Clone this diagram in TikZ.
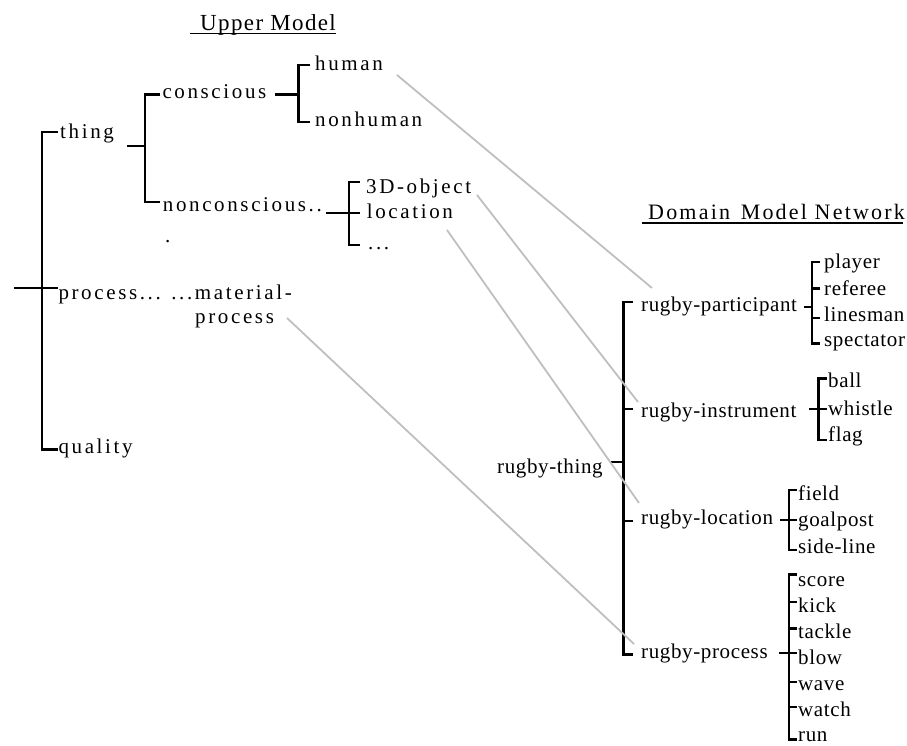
\documentclass[tikz,border=0pt]{standalone}
\usepackage{fontspec}
\setmainfont{Liberation Serif}
\newfontfamily\upf[LetterSpace=12.5]{Liberation Serif}
\newfontfamily\dmf[LetterSpace=3]{Liberation Serif}
\newfontfamily\hdf[LetterSpace=6]{Liberation Serif}
\newfontfamily\dhf[LetterSpace=10]{Liberation Serif}
\begin{document}
\begin{tikzpicture}[x=1pt,y=-1pt,
  uptxt/.style={anchor=base west, inner sep=0pt, font=\upf\fontsize{21}{25}\selectfont},
  dmtxt/.style={anchor=base west, inner sep=0pt, font=\dmf\fontsize{21}{25}\selectfont},
  hdtxt/.style={anchor=base west, inner sep=0pt, font=\hdf\fontsize{23}{27}\selectfont},
  dhtxt/.style={anchor=base west, inner sep=0pt, font=\dhf\fontsize{22}{26}\selectfont},
  br/.style={line width=2.4pt, line join=miter, draw=black},
  ul/.style={line width=1.4pt, draw=black},
  gl/.style={line width=1.8pt, draw=black!25}]
\useasboundingbox (0,0) rectangle (907,745);

% ---------- Upper Model ----------
\node[hdtxt] (uptitle) at (200,30) {Upper Model};
\draw[ul] (190,33.5) -- (uptitle.base east |- 0,33.5);

\node[uptxt] (thing) at (60,138.3) {thing};
\node[uptxt] (process) at (58.3,299) {process... ...material-};
\node[uptxt] (process2) at (195,323) {process};
\node[uptxt] (quality) at (58.3,453) {quality};
\node[uptxt] (conscious) at (162.3,98.3) {conscious};
\node[uptxt] (human) at (315,70.7) {human};
\node[uptxt] (nonhuman) at (315,126.7) {nonhuman};
\node[uptxt] (noncon) at (162.7,211.7) {nonconscious..};
\node[uptxt] (nondot) at (165,242.7) {.};
\node[uptxt] (obj) at (366,193.3) {3D-object};
\node[uptxt] (loc) at (366.7,218.3) {location};
\node[uptxt] (etc) at (368,249.3) {...};

\draw[br] (58,131.7) -- (42,131.7) -- (42,449.3) -- (58,449.3);
\draw[br] (14,287.7) -- (58,287.7);
\draw[br] (127,146) -- (145,146);
\draw[br] (160,94.3) -- (145,94.3) -- (145,202) -- (160,202);
\draw[br] (275,94.3) -- (298.3,94.3);
\draw[br] (310,65) -- (298.3,65) -- (298.3,121.7) -- (310,121.7);
\draw[br] (326,212.7) -- (360,212.7);
\draw[br] (360,181.7) -- (349,181.7) -- (349,245) -- (360,245);

% ---------- Domain Model Network ----------
\node[dhtxt] (dmtitle) at (648,219) {Domain\hspace{3pt} Model Network};
\draw[ul] (642,223) -- (903,223);

\node[dmtxt] (rthing) at (497,473.3) {rugby-thing};
\node[dmtxt] (rpart) at (641,311.7) {rugby-participant};
\node[dmtxt] (rinst) at (641,417.7) {rugby-instrument};
\node[dmtxt] (rloc) at (641,524.3) {rugby-location};
\node[dmtxt] (rproc) at (641,658.3) {rugby-process};

\node[dmtxt] (player) at (824,268.3) {player};
\node[dmtxt] (referee) at (824,295) {referee};
\node[dmtxt] (linesman) at (824,321.7) {linesman};
\node[dmtxt] (spectator) at (824,346.7) {spectator};

\node[dmtxt] (ball) at (828,387.7) {ball};
\node[dmtxt] (whistle) at (828,415) {whistle};
\node[dmtxt] (flag) at (828,441.7) {flag};

\node[dmtxt] (field) at (798,500) {field};
\node[dmtxt] (goalpost) at (798,526.7) {goalpost};
\node[dmtxt] (sideline) at (798,553.3) {side-line};

\node[dmtxt] (score) at (798,586.7) {score};
\node[dmtxt] (kick) at (798,612.6) {kick};
\node[dmtxt] (tackle) at (798,638.5) {tackle};
\node[dmtxt] (blow) at (798,664.4) {blow};
\node[dmtxt] (wave) at (798,690.3) {wave};
\node[dmtxt] (watch) at (798,716.2) {watch};
\node[dmtxt] (run) at (798,741.8) {run};

\draw[br] (633,301.7) -- (623.3,301.7) -- (623.3,654.3) -- (633,654.3);
\draw[br] (623.3,409) -- (633,409);
\draw[br] (623.3,521) -- (633,521);
\draw[br] (611,461.7) -- (623.3,461.7);

\draw[br] (804,306.7) -- (811.7,306.7);
\draw[br] (820,261.7) -- (811.7,261.7) -- (811.7,343.3) -- (820,343.3);
\draw[br] (811.7,288.3) -- (820,288.3);
\draw[br] (811.7,317.7) -- (820,317.7);

\draw[br] (809,409) -- (826.7,409);
\draw[br] (826.7,378.3) -- (818.3,378.3) -- (818.3,440) -- (826.7,440);

\draw[br] (780,520) -- (797,520);
\draw[br] (797,490) -- (789,490) -- (789,550) -- (797,550);

\draw[br] (779.3,653) -- (797,653);
\draw[br] (797,574.3) -- (789,574.3) -- (789,739.5) -- (797,739.5);
\foreach \yy in {601.7,628.3,681.7,706.7} \draw[br] (789,\yy) -- (797,\yy);

% ---------- links between the models ----------
\coordinate (l1a) at (397,75);   \coordinate (l1b) at (652,288);
\coordinate (l2a) at (477,195);  \coordinate (l2b) at (638,402);
\coordinate (l3a) at (447,230);  \coordinate (l3b) at (639,503);
\coordinate (l4a) at (287,318);  \coordinate (l4b) at (634,644);
\draw[gl] (l1a) -- (l1b);
\draw[gl] (l2a) -- (l2b);
\draw[gl] (l3a) -- (l3b);
\draw[gl] (l4a) -- (l4b);
\end{tikzpicture}
\end{document}
